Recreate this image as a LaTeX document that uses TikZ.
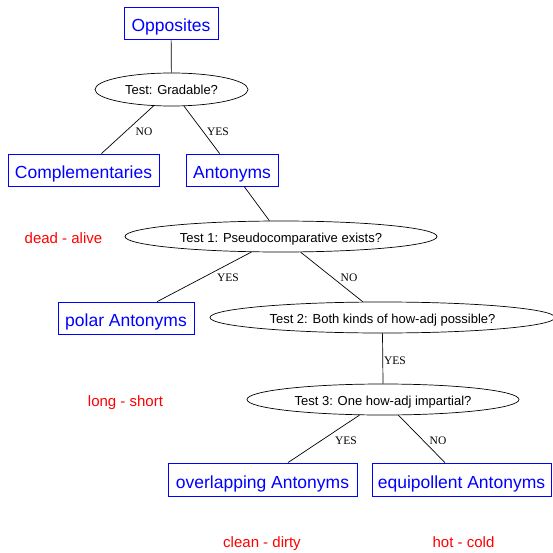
\documentclass[tikz,border=0pt]{standalone}
\usepackage{fontspec}
\setmainfont{Liberation Sans}
\newfontfamily\answerfont{Liberation Serif}
\usetikzlibrary{shapes.geometric}
\begin{document}
\begin{tikzpicture}[x=1pt,y=-1pt,
  cls/.style={draw=blue, text=blue, rectangle, inner sep=0pt, line width=0.8pt,
    minimum height=32pt, text height=17pt, text depth=0pt,
    font=\fontsize{17.5}{20}\selectfont},
  test/.style={draw, ellipse, inner sep=0pt, line width=0.7pt, minimum height=31pt,
    text height=11pt, text depth=0pt, font=\fontsize{13}{15}\selectfont},
  example/.style={text=red, inner sep=0pt, anchor=base, font=\fontsize{15}{18}\selectfont},
  answer/.style={inner sep=0pt, font=\answerfont\fontsize{11.5}{13}\selectfont},
  edge/.style={line width=0.7pt}]
\useasboundingbox (0,0) rectangle (552,553);

% classes
\node[cls, minimum width=94pt] (opp) at (171,23) {Opposites};
\node[cls, minimum width=151pt] (comp) at (83.5,170) {Complementaries};
\node[cls, minimum width=92pt] (ant) at (232,170) {Antonyms};
\node[cls, minimum width=136pt] (polar) at (126,318) {polar Antonyms};
\node[cls, minimum width=189pt, minimum height=33pt] (over) at (262.5,479.5) {overlapping Antonyms};
\node[cls, minimum width=179pt, minimum height=33pt] (equi) at (461.5,479.5) {equipollent Antonyms};

% tests
\node[test, minimum width=153pt, minimum height=33pt] (t0) at (171.5,89.5) {Test: Gradable?};
\node[test, minimum width=312pt] (t1) at (281,236.5) {Test 1: Pseudocomparative exists?};
\node[test, minimum width=345pt] (t2) at (382.5,317.5) {Test 2: Both kinds of how-adj possible?};
\node[test, minimum width=272pt] (t3) at (383,399.5) {Test 3: One how-adj impartial?};

% examples (placed on their baselines)
\node[example] (ex1) at (63.5,243.5) {dead - alive};
\node[example] (ex2) at (125.5,406.5) {long - short};
\node[example] (ex3) at (262,547.5) {clean - dirty};
\node[example] (ex4) at (463.5,547.5) {hot - cold};

% connectors
\draw[edge] (opp) -- (t0);
\draw[edge] (t0) -- (comp);
\draw[edge] (t0) -- (ant);
\draw[edge] (ant) -- (t1);
\draw[edge] (t1) -- (polar);
\draw[edge] (t1) -- (t2);
\draw[edge] (t2.south) -- (t3.north);
\draw[edge] (t3) -- (over);
\draw[edge] (t3) -- (equi);

% answers
\node[answer] (a0n) at (144,132) {NO};
\node[answer] (a0y) at (218,132) {YES};
\node[answer] (a1y) at (228,278) {YES};
\node[answer] (a1n) at (349,278) {NO};
\node[answer] (a2y) at (395,361) {YES};
\node[answer] (a3y) at (346,441) {YES};
\node[answer] (a3n) at (438,441) {NO};
\end{tikzpicture}
\end{document}
